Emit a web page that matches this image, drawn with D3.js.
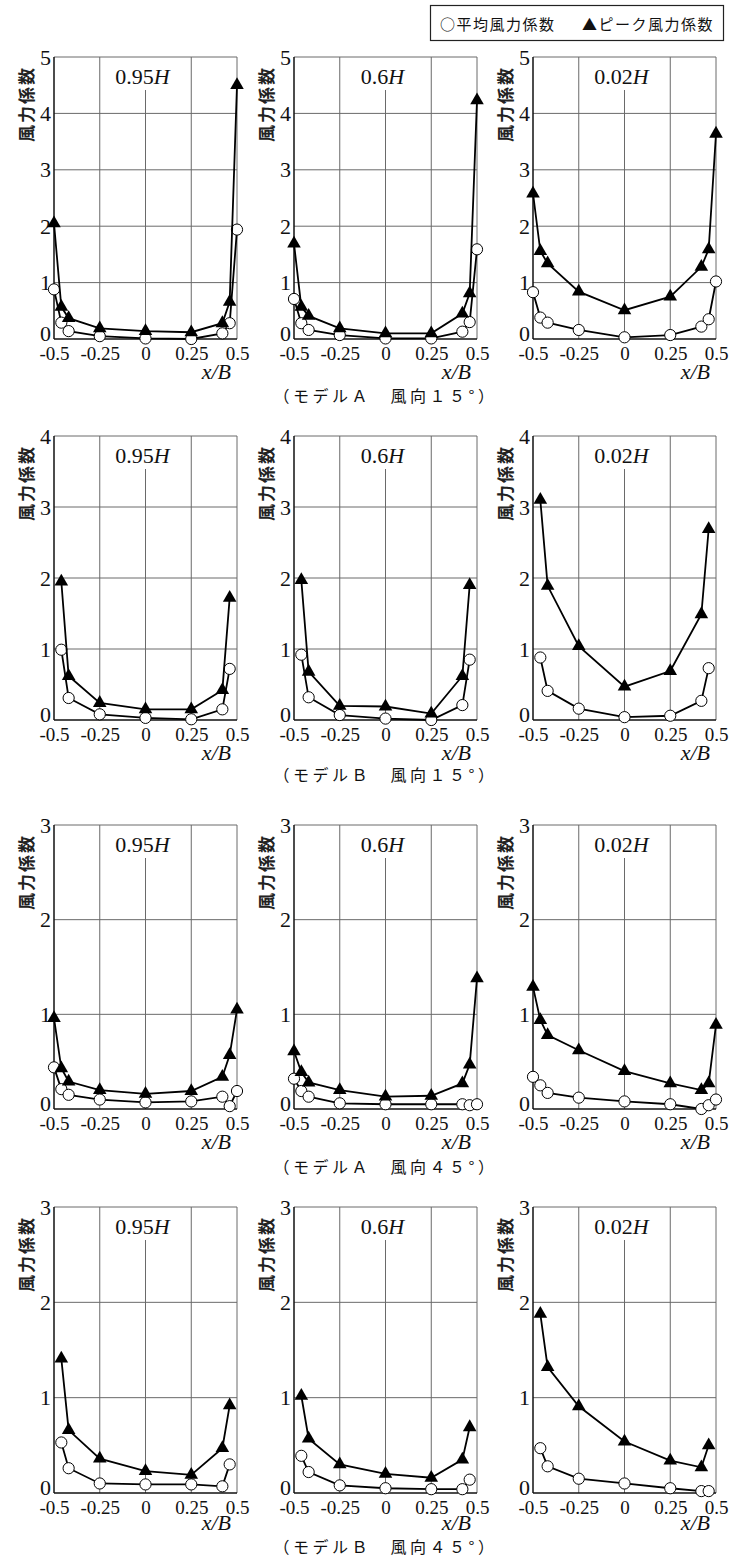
<!DOCTYPE html>
<html><head><meta charset="utf-8">
<script src="https://cdn.jsdelivr.net/npm/d3@7"></script>
<style>body{margin:0;background:#fff}</style>
</head><body>
<svg id="c" width="729" height="1560"></svg>
<script>
// ---- data ----
const heights = ["0.95", "0.6", "0.02"];
const captions = ["（モデルＡ　風向１５°）", "（モデルＢ　風向１５°）", "（モデルＡ　風向４５°）", "（モデルＢ　風向４５°）"];
const yMaxes = [5, 4, 3, 3];
const xA = [-0.5, -0.46, -0.42, -0.25, 0, 0.25, 0.42, 0.46, 0.5];
const xB = [-0.46, -0.42, -0.25, 0, 0.25, 0.42, 0.46];
const xTicks = [-0.5, -0.25, 0, 0.25, 0.5];
const xTickLabels = ["-0.5", "-0.25", "0", "0.25", "0.5"];

const meanA15 = [[0.88,0.29,0.14,0.05,0.01,0.0,0.1,0.28,1.94],[0.71,0.28,0.16,0.07,0.01,0.01,0.13,0.3,1.59],[0.83,0.38,0.29,0.16,0.03,0.07,0.22,0.35,1.02]];
const peakA15 = [[2.05,0.57,0.37,0.19,0.14,0.12,0.28,0.66,4.5],[1.69,0.57,0.41,0.19,0.1,0.1,0.45,0.81,4.23],[2.58,1.56,1.34,0.84,0.51,0.75,1.28,1.59,3.64]];
const meanB15 = [[0.99,0.31,0.08,0.03,0.01,0.15,0.72],[0.92,0.32,0.07,0.02,0.0,0.21,0.85],[0.88,0.41,0.16,0.04,0.06,0.27,0.73]];
const peakB15 = [[1.95,0.62,0.24,0.15,0.15,0.42,1.72],[1.97,0.68,0.2,0.19,0.09,0.62,1.9],[3.1,1.89,1.04,0.47,0.69,1.49,2.69]];
const meanA45 = [[0.44,0.21,0.15,0.1,0.07,0.08,0.13,0.03,0.19],[0.32,0.19,0.13,0.06,0.05,0.05,0.05,0.04,0.05],[0.34,0.25,0.17,0.12,0.08,0.05,0.0,0.04,0.1]];
const peakA45 = [[0.96,0.43,0.29,0.2,0.16,0.19,0.34,0.57,1.05],[0.61,0.39,0.28,0.2,0.13,0.14,0.27,0.47,1.38],[1.29,0.94,0.78,0.62,0.4,0.27,0.2,0.27,0.89]];
const meanB45 = [[0.53,0.26,0.1,0.09,0.09,0.07,0.3],[0.39,0.22,0.08,0.05,0.04,0.04,0.14],[0.47,0.28,0.15,0.1,0.05,0.02,0.02]];
const peakB45 = [[1.41,0.66,0.36,0.23,0.19,0.47,0.92],[1.02,0.57,0.3,0.2,0.16,0.35,0.69],[1.88,1.32,0.91,0.54,0.34,0.27,0.5]];

const legendLabels = ["○平均風力係数", "▲ピーク風力係数"];
const yLabel = "風力係数";
const xLabel = "x/B";

// ---- layout ----
const rowsData = [
  {x: xA, mean: meanA15, peak: peakA15},
  {x: xB, mean: meanB15, peak: peakB15},
  {x: xA, mean: meanA45, peak: peakA45},
  {x: xB, mean: meanB45, peak: peakB45}
];
const colLeft = [54, 294, 533];
const pw = 183;
const rowTop = [57, 436, 825, 1207];
const rowH = [282, 284, 284, 286];
const capOffset = [56, 54, 57, 53];
const xLabOffset = [32, 32, 32, 29];
const serif = "'Liberation Serif','Times New Roman',serif";
const jp = "'Noto Sans CJK JP','Noto Sans CJK SC',sans-serif";

const svg = d3.select("#c");

// legend
const lg = svg.append("g");
lg.append("rect").attr("x", 430.5).attr("y", 5.5).attr("width", 293).attr("height", 35)
  .attr("fill", "#fff").attr("stroke", "#222").attr("stroke-width", 1.2);
lg.append("text").attr("x", 440).attr("y", 23).attr("dominant-baseline", "central")
  .attr("font-family", jp).attr("font-size", 15).attr("letter-spacing", 1.5).attr("fill", "#111")
  .text(legendLabels[0]);
lg.append("text").attr("x", 582).attr("y", 23).attr("dominant-baseline", "central")
  .attr("font-family", jp).attr("font-size", 15).attr("letter-spacing", 1.5).attr("fill", "#111")
  .text(legendLabels[1]);

rowsData.forEach((rd, r) => {
  const top = rowTop[r], h = rowH[r], ymax = yMaxes[r];
  for (let c = 0; c < 3; c++) {
    const left = colLeft[c];
    const x = d3.scaleLinear().domain([-0.5, 0.5]).range([left, left + pw]);
    const y = d3.scaleLinear().domain([0, ymax]).range([top + h, top]);
    const g = svg.append("g");

    // horizontal grid
    g.selectAll(".hg").data(d3.range(1, ymax + 1)).join("line").attr("class", "hg")
      .attr("x1", x(-0.5)).attr("x2", x(0.5))
      .attr("y1", d => y(d)).attr("y2", d => y(d))
      .attr("stroke", "#6a6a6a").attr("stroke-width", 1);
    // vertical grid
    g.selectAll(".vg").data(xTicks.slice(1)).join("line").attr("class", "vg")
      .attr("x1", d => x(d)).attr("x2", d => x(d))
      .attr("y1", d => d === 0 ? top + 33 : y(ymax)).attr("y2", y(0))
      .attr("stroke", "#6a6a6a").attr("stroke-width", 1);
    // axes lines
    g.append("line").attr("x1", x(-0.5)).attr("x2", x(-0.5)).attr("y1", y(ymax)).attr("y2", y(0))
      .attr("stroke", "#111").attr("stroke-width", 1.5);
    g.append("line").attr("x1", x(-0.5)).attr("x2", x(0.5)).attr("y1", y(0)).attr("y2", y(0))
      .attr("stroke", "#111").attr("stroke-width", 1.5);

    // y axis ticks labels
    const ya = g.append("g").attr("transform", `translate(${left},0)`)
      .call(d3.axisLeft(y).tickValues(d3.range(0, ymax + 1)).tickSize(0).tickPadding(3).tickFormat(d3.format("d")));
    ya.select(".domain").remove();
    ya.selectAll("text").attr("font-family", serif).attr("font-size", 22).attr("fill", "#111")
      .attr("dy", d => d === 0 ? "0.05em" : "0.32em");

    // x axis tick labels
    const xa = g.append("g").attr("transform", `translate(0,${top + h})`)
      .call(d3.axisBottom(x).tickValues(xTicks).tickSize(0).tickPadding(8).tickFormat((d, i) => xTickLabels[i]));
    xa.select(".domain").remove();
    xa.selectAll("text").attr("font-family", serif).attr("font-size", 19).attr("fill", "#111");

    // title
    const t = g.append("text").attr("x", x(0) - 3).attr("y", top + 19).attr("text-anchor", "middle")
      .attr("dominant-baseline", "central").attr("font-family", serif).attr("font-size", 22).attr("fill", "#111");
    t.append("tspan").text(heights[c]);
    t.append("tspan").attr("font-style", "italic").text("H");

    // y label
    g.append("text").attr("transform", `translate(${left - 29},${top + 47}) rotate(-90)`)
      .attr("text-anchor", "middle").attr("dominant-baseline", "central")
      .attr("font-family", jp).attr("font-size", 17).attr("font-weight", "bold").attr("letter-spacing", 2)
      .attr("fill", "#222").text(yLabel);

    // x label
    g.append("text").attr("x", left + pw - 6).attr("y", top + h + xLabOffset[r]).attr("text-anchor", "end")
      .attr("dominant-baseline", "central").attr("font-family", serif).attr("font-size", 22)
      .attr("font-style", "italic").attr("fill", "#111").text(xLabel);

    // data
    const xs = rd.x;
    const mean = rd.mean[c].map((v, i) => [xs[i], v]);
    const peak = rd.peak[c].map((v, i) => [xs[i], v]);
    const line = d3.line().x(d => x(d[0])).y(d => y(d[1]));

    g.append("path").attr("d", line(mean)).attr("fill", "none").attr("stroke", "#000").attr("stroke-width", 1.8);
    g.selectAll(".mc").data(mean).join("circle").attr("class", "mc")
      .attr("cx", d => x(d[0])).attr("cy", d => y(d[1])).attr("r", 5.6)
      .attr("fill", "#fff").attr("stroke", "#000").attr("stroke-width", 1);
    g.append("path").attr("d", line(peak)).attr("fill", "none").attr("stroke", "#000").attr("stroke-width", 1.8);
    g.selectAll(".pt").data(peak).join("path").attr("class", "pt")
      .attr("transform", d => `translate(${x(d[0])},${y(d[1])})`)
      .attr("d", d3.symbol().type(d3.symbolTriangle).size(80)())
      .attr("fill", "#000");
  }
  // caption
  svg.append("text").attr("x", colLeft[1] + pw / 2).attr("y", rowTop[r] + rowH[r] + capOffset[r])
    .attr("text-anchor", "middle").attr("dominant-baseline", "central")
    .attr("font-family", jp).attr("font-size", 16).attr("letter-spacing", 3.5).attr("fill", "#111")
    .text(captions[r]);
});
</script>
</body></html>
